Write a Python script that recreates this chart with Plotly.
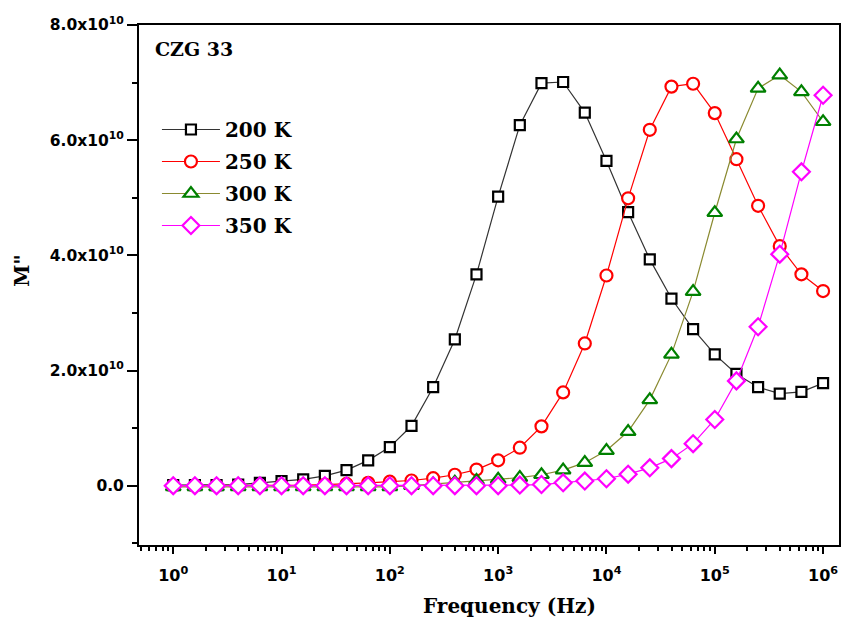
import plotly.graph_objects as go

freq = [1, 1.585, 2.512, 3.981, 6.310, 10, 15.85, 25.12, 39.81, 63.10,
        100, 158.5, 251.2, 398.1, 631.0, 1000, 1585, 2512, 3981, 6310,
        1e4, 1.585e4, 2.512e4, 3.981e4, 6.310e4, 1e5, 1.585e5, 2.512e5, 3.981e5, 6.310e5, 1e6]

m200 = [0.01, 0.01, 0.01, 0.02, 0.05, 0.08, 0.11, 0.17, 0.27, 0.44,
        0.67, 1.04, 1.71, 2.54, 3.67, 5.02, 6.26, 6.99, 7.01, 6.48,
        5.64, 4.75, 3.93, 3.25, 2.72, 2.28, 1.94, 1.71, 1.60, 1.63, 1.78]
m250 = [0.0, 0.0, 0.0, 0.0, 0.0, 0.005, 0.01, 0.02, 0.03, 0.05,
        0.07, 0.09, 0.13, 0.19, 0.28, 0.44, 0.66, 1.03, 1.62, 2.47,
        3.65, 4.99, 6.18, 6.93, 6.98, 6.47, 5.67, 4.86, 4.16, 3.67, 3.38]
m300 = [-0.02, -0.02, -0.02, -0.02, -0.02, -0.02, -0.02, -0.02, -0.02, -0.02,
        -0.02, 0.0, 0.03, 0.06, 0.09, 0.11, 0.14, 0.19, 0.27, 0.40,
        0.61, 0.94, 1.49, 2.28, 3.37, 4.74, 6.02, 6.90, 7.13, 6.84, 6.32]
m350 = [0.0, 0.0, 0.0, 0.0, 0.0, 0.0, 0.0, 0.0, 0.0, 0.0,
        0.0, 0.0, 0.0, 0.0, 0.0, 0.0, 0.01, 0.02, 0.05, 0.08,
        0.12, 0.20, 0.31, 0.47, 0.73, 1.15, 1.82, 2.76, 4.02, 5.45, 6.78]
scale = 1e10

series = [
    ("200 K", m200, "black", "#333333", "square", 10),
    ("250 K", m250, "#ff0000", "#ff0000", "circle", 12),
    ("300 K", m300, "#008000", "#8a8a30", "triangle-up", 13),
    ("350 K", m350, "#ff00ff", "#ff00ff", "diamond", 13),
]

xtick_vals = [1, 10, 100, 1000, 1e4, 1e5, 1e6]
xtick_text = ["10<sup>%d</sup>" % i for i in range(7)]
ytick_vals = [0, 2e10, 4e10, 6e10, 8e10]
ytick_text = ["0.0", "2.0x10<sup>10</sup>", "4.0x10<sup>10</sup>", "6.0x10<sup>10</sup>", "8.0x10<sup>10</sup>"]

fig = go.Figure()
for name, vals, mcol, lcol, sym, sz in series:
    fig.add_trace(go.Scatter(
        x=freq, y=[v * scale for v in vals], name=name, mode="lines+markers",
        legendgroup=name,
        line=dict(color=lcol, width=1.2),
        marker=dict(symbol=sym, size=sz, color="white", line=dict(color=mcol, width=2.2)),
    ))

serif = "DejaVu Serif"
sans = "DejaVu Sans"

L, R, T, B = 139, 2, 25, 75
PW, PH = 843 - L - R, 620 - T - B


def px(x):
    return (x - L) / PW


def py(y):
    return (620 - B - y) / PH


fig.update_layout(
    width=843, height=620,
    margin=dict(l=L, r=R, t=T, b=B),
    paper_bgcolor="white", plot_bgcolor="white",
    showlegend=True,
    legend=dict(
        x=px(157), y=py(110), xanchor="left", yanchor="top",
        bgcolor="rgba(0,0,0,0)", borderwidth=0,
        font=dict(family=serif, size=20, color="black", weight="bold"),
        itemwidth=58, tracegroupgap=3,
    ),
    xaxis=dict(
        type="log", range=[-0.316, 6.147],
        tickvals=xtick_vals, ticktext=xtick_text,
        ticks="outside", ticklen=7, tickwidth=2, tickcolor="black",
        showline=True, linewidth=2, linecolor="black", mirror=True,
        showgrid=False, zeroline=False, ticklabelstandoff=8,
        tickfont=dict(family=sans, size=16, color="black", weight="bold"),
        minor=dict(ticks="outside", ticklen=4, tickwidth=1.5, tickcolor="black",
                   dtick="D1", showgrid=False),
    ),
    yaxis=dict(
        range=[-1.03e10, 8.0e10],
        tickvals=ytick_vals, ticktext=ytick_text,
        ticks="outside", ticklen=10, tickwidth=2, tickcolor="black",
        showline=True, linewidth=2, linecolor="black", mirror=True,
        showgrid=False, zeroline=False,
        tickfont=dict(family=sans, size=15.5, color="black", weight="bold"),
        minor=dict(ticks="outside", ticklen=5, tickwidth=1.5, tickcolor="black",
                   dtick=2e10, tick0=1e10, showgrid=False),
    ),
    annotations=[
        dict(text="CZG 33", x=px(153), y=py(49),
             xref="paper", yref="paper", xanchor="left", yanchor="middle", showarrow=False,
             font=dict(family=serif, size=19, color="black", weight="bold")),
        dict(text="Frequency (Hz)", x=px(511), y=py(606),
             xref="paper", yref="paper", xanchor="center", yanchor="middle", showarrow=False,
             font=dict(family=serif, size=20, color="black", weight="bold")),
        dict(text='M"', x=px(21.5), y=py(270), textangle=-90,
             xref="paper", yref="paper", xanchor="center", yanchor="middle", showarrow=False,
             font=dict(family=serif, size=20, color="black", weight="bold")),
    ],
)

fig.write_html("out.html", config={"displayModeBar": False},
               post_script="document.body.style.margin='0';")
